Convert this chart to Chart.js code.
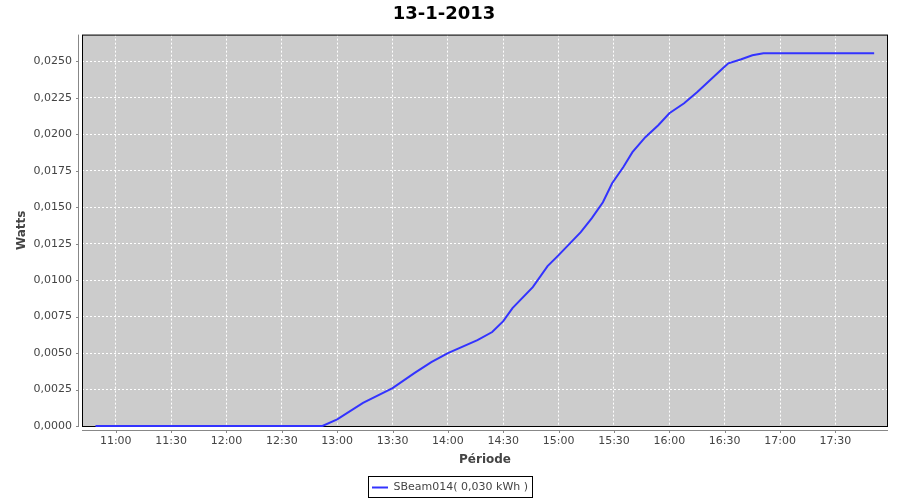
<!DOCTYPE html>
<html>
<head>
<meta charset="utf-8">
<script src="https://cdn.jsdelivr.net/npm/chart.js@4"></script>
<style>
  html, body { margin: 0; padding: 0; background: #fff; }
  #wrap { width: 900px; height: 500px; }
</style>
</head>
<body>
<div id="wrap"><canvas id="energyChart" width="900" height="500"></canvas></div>
<script>
// Readings of the day (time of day, cumulative value)
const TIMES = [
    "10:49", "11:30", "12:00", "12:30", "12:52", "13:00", "13:14", "13:30",
    "13:42", "13:51", "14:00", "14:16", "14:24", "14:30", "14:35", "14:46",
    "14:54", "15:00", "15:12", "15:18", "15:24", "15:29", "15:35", "15:40",
    "15:47", "15:54", "16:00", "16:08", "16:15", "16:22", "16:29", "16:32",
    "16:39", "16:45", "16:51", "17:00", "17:15", "17:30", "17:51"
];
const WATTS = [
    0, 0, 0, 0, 0, 0.00045, 0.00158, 0.0026,
    0.00364, 0.00438, 0.0050, 0.00589, 0.00644, 0.00719, 0.00808, 0.00952,
    0.01096, 0.01171, 0.01329, 0.01425, 0.01534, 0.01664, 0.01774, 0.01877,
    0.0198, 0.02062, 0.02144, 0.02212, 0.02288, 0.0237, 0.02452, 0.02486,
    0.02514, 0.02541, 0.02555, 0.02556, 0.02556, 0.02556, 0.02556
];
const X_TICKS = ["11:00", "11:30", "12:00", "12:30", "13:00", "13:30", "14:00",
                 "14:30", "15:00", "15:30", "16:00", "16:30", "17:00", "17:30"];
const Y_TICKS = [0, 0.0025, 0.005, 0.0075, 0.01, 0.0125, 0.015, 0.0175, 0.02, 0.0225, 0.025];

const SERIES_LABEL = "SBeam014( 0,030 kWh )";
const TITLE = "13-1-2013";

const FONT = "'DejaVu Sans', sans-serif";
const TEXT = "#444444";
const AXIS = "#888888";

// "HH:MM" -> minutes since midnight
const toMin = (t) => {
    const [h, m] = t.split(":").map(Number);
    return h * 60 + m;
};
const fmtMin = (v) => {
    const h = Math.floor(v / 60), m = Math.round(v % 60);
    return String(h).padStart(2, "0") + ":" + String(m).padStart(2, "0");
};

// gray plot background, black frame, offset axis lines, legend box
const plotFrame = {
    id: "plotFrame",
    afterLayout(c) {
        // nudge the legend to where the original puts it
        if (c.legend) {
            c.legend.left += 6; c.legend.right += 6;
            c.legend.top += 3; c.legend.bottom += 3;
        }
    },
    beforeDraw(c) {
        const a = c.chartArea, ctx = c.ctx;
        ctx.save();
        ctx.fillStyle = "#cccccc";
        ctx.fillRect(a.left, a.top, a.right - a.left, a.bottom - a.top);
        ctx.restore();
    },
    beforeDatasetsDraw(c) {
        const a = c.chartArea, ctx = c.ctx;
        ctx.save();
        ctx.strokeStyle = "#000";
        ctx.lineWidth = 1;
        ctx.strokeRect(a.left + 0.5, a.top + 0.5, a.right - a.left - 1, a.bottom - a.top);
        ctx.restore();
    },
    afterDraw(c) {
        const a = c.chartArea, ctx = c.ctx;
        const xs = c.scales.x, ys = c.scales.y;
        ctx.save();
        ctx.strokeStyle = AXIS;
        ctx.lineWidth = 1;
        ctx.beginPath();
        ctx.moveTo(a.left - 3.5, a.top);
        ctx.lineTo(a.left - 3.5, a.bottom + 1);
        ys.ticks.forEach(t => {
            const y = Math.round(ys.getPixelForValue(t.value)) + 0.5;
            ctx.moveTo(a.left - 6, y);
            ctx.lineTo(a.left - 3, y);
        });
        ctx.moveTo(a.left, a.bottom + 4.5);
        ctx.lineTo(a.right, a.bottom + 4.5);
        xs.ticks.forEach(t => {
            const x = Math.round(xs.getPixelForValue(t.value)) + 0.5;
            ctx.moveTo(x, a.bottom + 4);
            ctx.lineTo(x, a.bottom + 7);
        });
        ctx.stroke();
        const lg = c.legend;
        if (lg && lg.legendHitBoxes && lg.legendHitBoxes.length) {
            const b = lg.legendHitBoxes[0];
            ctx.strokeStyle = "#000";
            ctx.strokeRect(Math.round(b.left) - 3.5, Math.round(b.top) - 5.5,
                           Math.round(b.width) + 8, 21);
        }
        ctx.restore();
    }
};

new Chart(document.getElementById("energyChart"), {
    type: "line",
    data: {
        datasets: [{
            label: SERIES_LABEL,
            data: TIMES.map((t, i) => ({ x: toMin(t), y: WATTS[i] })),
            borderColor: "#3333ff",
            backgroundColor: "#3333ff",
            borderWidth: 2,
            pointRadius: 0,
            tension: 0,
            fill: false,
            clip: false
        }]
    },
    options: {
        responsive: false,
        animation: false,
        layout: { padding: { left: 0, right: 12, top: 0, bottom: 0 } },
        plugins: {
            title: {
                display: true,
                text: TITLE,
                color: "#000",
                font: { family: FONT, size: 18, weight: "bold" },
                padding: { top: 4, bottom: 9 }
            },
            legend: {
                position: "bottom",
                labels: {
                    color: TEXT,
                    font: { family: FONT, size: 11 },
                    usePointStyle: true,
                    pointStyle: "line",
                    pointStyleWidth: 16,
                    padding: 7
                }
            },
            tooltip: { enabled: false }
        },
        scales: {
            x: {
                type: "linear",
                min: 641.7,
                max: 1078.5,
                afterBuildTicks: (s) => { s.ticks = X_TICKS.map(t => ({ value: toMin(t) })); },
                afterFit: (s) => { s.height = 46; },
                ticks: {
                    color: TEXT,
                    font: { family: FONT, size: 11 },
                    padding: 9,
                    maxRotation: 0,
                    autoSkip: false,
                    callback: (v) => fmtMin(v)
                },
                grid: {
                    color: "#ffffff",
                    lineWidth: 1,
                    drawTicks: false
                },
                border: { display: false, dash: [2, 2] },
                title: {
                    display: true,
                    text: "Période",
                    color: TEXT,
                    font: { family: FONT, size: 12, weight: "bold" },
                    padding: { top: 0, bottom: 5 }
                }
            },
            y: {
                min: 0,
                max: 0.02683,
                afterBuildTicks: (s) => { s.ticks = Y_TICKS.map(v => ({ value: v })); },
                afterFit: (s) => { s.width = 82; },
                ticks: {
                    color: TEXT,
                    font: { family: FONT, size: 11 },
                    padding: 10,
                    callback: (v) => v.toFixed(4).replace(".", ",")
                },
                grid: {
                    color: "#ffffff",
                    lineWidth: 1,
                    drawTicks: false
                },
                border: { display: false, dash: [2, 2] },
                title: {
                    display: true,
                    text: "Watts",
                    color: TEXT,
                    font: { family: FONT, size: 12, weight: "bold" },
                    padding: { top: 15, bottom: 0 }
                }
            }
        }
    },
    plugins: [plotFrame]
});
</script>
</body>
</html>
